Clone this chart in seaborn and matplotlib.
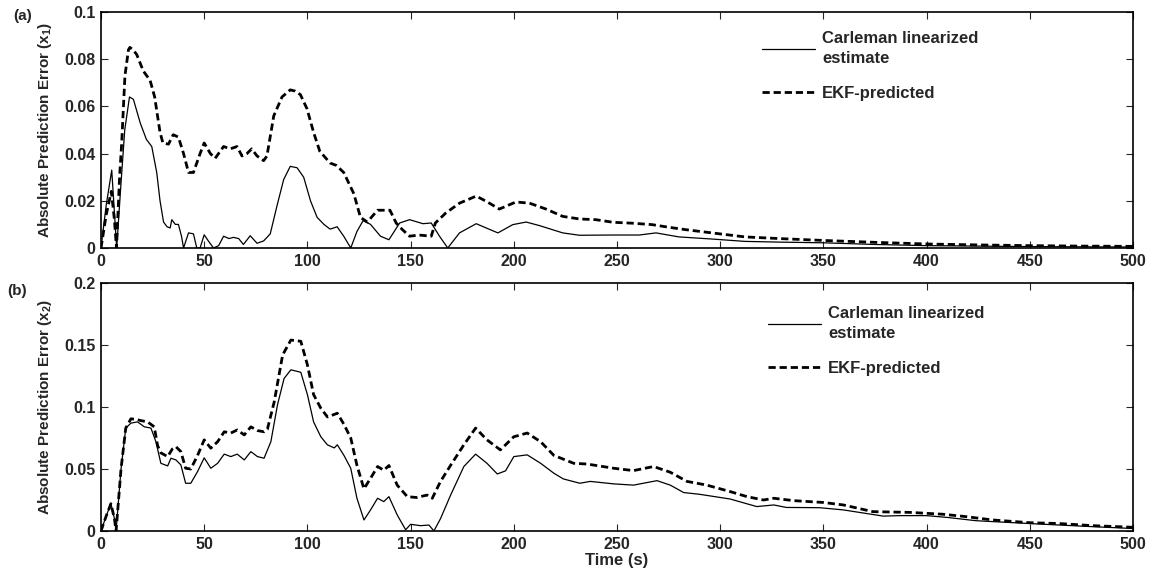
import matplotlib
matplotlib.use("Agg")
import matplotlib.pyplot as plt
import seaborn as sns
import pandas as pd

# ---------------- data (time s, absolute prediction error) ----------------
a_carleman = [(0, 0), (2.5, 0.018), (5.2, 0.033), (6.5, 0.015), (7.6, 0.0), (9.5, 0.025),
              (11.5, 0.05), (13.8, 0.064), (15.7, 0.063), (19, 0.053), (22, 0.046), (24.6, 0.043),
              (27, 0.032), (28.6, 0.020), (30.3, 0.011), (32, 0.009), (33.5, 0.0085), (34.3, 0.012),
              (36, 0.010), (37.5, 0.010), (39, 0.005), (40, 0.0), (42.4, 0.0064), (44.8, 0.006),
              (46.4, 0.0), (48, 0.0), (50, 0.0056), (52, 0.003), (54.5, 0.0), (57, 0.001),
              (59.4, 0.005), (62, 0.004), (64.2, 0.0045), (66.7, 0.004), (69, 0.0015), (72.3, 0.0052),
              (75.6, 0.002), (78.8, 0.003), (82, 0.006), (85.3, 0.018), (88.5, 0.029), (91.7, 0.0346),
              (95, 0.034), (98.2, 0.030), (101.5, 0.020), (104.7, 0.013), (108, 0.010), (111, 0.008),
              (114.4, 0.009), (117.6, 0.005), (121, 0.0), (124, 0.007), (127, 0.0116), (130.6, 0.010),
              (135.4, 0.005), (139.5, 0.0035), (144.7, 0.0106), (149.5, 0.012), (156, 0.0103),
              (160, 0.0106), (164, 0.005), (168, 0.0), (173.7, 0.0064), (181.8, 0.0103),
              (186.6, 0.0085), (192.3, 0.0064), (199.5, 0.0099), (206, 0.011), (212.4, 0.0095),
              (223.7, 0.0064), (231.8, 0.0054), (248, 0.0055), (260.8, 0.0055), (268.9, 0.0064),
              (280, 0.0047), (296, 0.0038), (312, 0.0028), (328.5, 0.0025), (350, 0.0022),
              (375, 0.0015), (400, 0.001), (425, 0.0008), (450, 0.0006), (475, 0.0005), (500, 0.0004)]

a_ekf = [(0, 0), (2.5, 0.014), (5, 0.024), (6.5, 0.012), (7.5, 0.0), (9, 0.03), (10, 0.044),
         (11.6, 0.073), (13.3, 0.084), (14, 0.085), (15.5, 0.084), (17.3, 0.082), (20.5, 0.075),
         (23.8, 0.071), (26, 0.064), (28.6, 0.049), (30, 0.0445), (32.7, 0.044), (35, 0.048),
         (37.5, 0.047), (40, 0.040), (42.4, 0.032), (44.8, 0.032), (48, 0.040), (50, 0.0445),
         (53, 0.040), (55.3, 0.038), (59.4, 0.043), (62.6, 0.042), (65.9, 0.043), (68.3, 0.039),
         (70.7, 0.040), (73, 0.042), (75.6, 0.039), (78.8, 0.037), (80.4, 0.039), (83.7, 0.056),
         (87.7, 0.064), (91.7, 0.067), (94, 0.0665), (96.6, 0.065), (99.8, 0.059), (103, 0.049),
         (106, 0.041), (111, 0.036), (114, 0.035), (117.6, 0.032), (122.5, 0.023), (125.7, 0.013),
         (129, 0.011), (134, 0.016), (140, 0.016), (143, 0.0106), (146, 0.0078), (149.5, 0.005),
         (154, 0.0055), (160, 0.005), (162, 0.0106), (167, 0.0148), (173.7, 0.019), (181.8, 0.022),
         (186.6, 0.0198), (193, 0.0165), (201, 0.0195), (207.6, 0.019), (215.6, 0.0165),
         (223.7, 0.0134), (231.8, 0.0123), (239.8, 0.012), (248, 0.0109), (257.6, 0.0105),
         (267, 0.0099), (275, 0.0088), (283, 0.0078), (296, 0.0064), (312, 0.0047), (328.5, 0.004),
         (350, 0.0032), (375, 0.0024), (400, 0.0017), (425, 0.0013), (450, 0.001), (475, 0.0008),
         (500, 0.0007)]

b_carleman = [(0, 0), (2.5, 0.012), (4.8, 0.022), (6.5, 0.01), (7.3, 0), (9.7, 0.05), (12, 0.083),
              (14.5, 0.087), (17.7, 0.088), (21, 0.084), (24.2, 0.083), (26.6, 0.072), (29, 0.0546),
              (32.3, 0.0525), (33.9, 0.0587), (36.3, 0.0573), (38.7, 0.0533), (41, 0.0385),
              (43.5, 0.0385), (46.8, 0.048), (50, 0.059), (53.2, 0.0506), (56.5, 0.0546),
              (59.7, 0.062), (62.9, 0.060), (66, 0.062), (69.4, 0.0573), (72.6, 0.064), (75.8, 0.060),
              (79, 0.0587), (82.3, 0.072), (85.5, 0.1017), (88.7, 0.123), (92, 0.130), (96.8, 0.128),
              (100, 0.110), (103, 0.088), (106.5, 0.076), (109.7, 0.0695), (113, 0.067),
              (114.5, 0.0695), (117.7, 0.061), (121, 0.0506), (124, 0.0264), (127.4, 0.0089),
              (130.6, 0.017), (134, 0.0264), (137, 0.0237), (139.5, 0.0277), (143.5, 0.013),
              (147.6, 0.001), (150, 0.0054), (154.8, 0.0043), (158.9, 0.0048), (161.3, 0),
              (164.5, 0.010), (169.4, 0.029), (175.8, 0.052), (181.5, 0.062), (187, 0.0546),
              (192, 0.046), (196, 0.0485), (200, 0.060), (206.5, 0.0614), (213, 0.0546),
              (219.4, 0.0466), (224, 0.042), (232, 0.0385), (237, 0.040), (248.4, 0.038),
              (258, 0.037), (269.4, 0.0406), (275.8, 0.037), (282.3, 0.031), (290, 0.0296),
              (304.8, 0.0258), (317.7, 0.0197), (326, 0.021), (332, 0.019), (348, 0.0188),
              (359.7, 0.017), (379, 0.012), (387, 0.0124), (400, 0.0124), (409.7, 0.011),
              (424, 0.0083), (442, 0.0067), (450, 0.006), (464.5, 0.0048), (480.6, 0.0035),
              (500, 0.002)]

b_ekf = [(0, 0), (2.5, 0.012), (4.8, 0.022), (6.5, 0.01), (7.3, 0), (9.7, 0.05), (12, 0.083),
         (14.5, 0.0905), (17, 0.09), (19.4, 0.089), (22.6, 0.088), (25.8, 0.084), (27.4, 0.069),
         (29, 0.063), (32.3, 0.060), (34.5, 0.066), (36.3, 0.068), (38.7, 0.064), (41, 0.0506),
         (43.5, 0.050), (46.8, 0.061), (50, 0.0735), (53.2, 0.0668), (56.5, 0.072), (59.7, 0.080),
         (62.9, 0.079), (66, 0.0815), (69.4, 0.0775), (72.6, 0.084), (75.8, 0.081), (79, 0.080),
         (80.6, 0.082), (83.9, 0.104), (88, 0.142), (92, 0.154), (96.8, 0.153), (100, 0.134),
         (103, 0.110), (106.5, 0.099), (109.7, 0.092), (113, 0.094), (114.5, 0.095), (117.7, 0.086),
         (121, 0.075), (124, 0.053), (127.4, 0.034), (130.6, 0.0425), (134, 0.052), (137, 0.049),
         (139.5, 0.0528), (143.5, 0.037), (148.4, 0.0277), (153, 0.027), (158, 0.029),
         (160.5, 0.0264), (164.5, 0.040), (169.4, 0.053), (175.8, 0.0695), (181.5, 0.083),
         (187, 0.0735), (193.5, 0.0654), (200, 0.076), (206.5, 0.079), (213, 0.072), (219.4, 0.061),
         (229, 0.0546), (235.5, 0.054), (248.4, 0.0506), (258, 0.0487), (267.7, 0.052),
         (275.8, 0.0474), (283.9, 0.040), (293.5, 0.037), (304.8, 0.0318), (313, 0.0277),
         (321, 0.025), (326, 0.0264), (335.5, 0.0245), (350, 0.023), (359.7, 0.021), (374, 0.0156),
         (392, 0.015), (408, 0.0135), (419, 0.0116), (432, 0.0089), (450, 0.0067), (464.5, 0.006),
         (480.6, 0.0043), (500, 0.003)]

x_ticks = [0, 50, 100, 150, 200, 250, 300, 350, 400, 450, 500]
a_yticks = [0, 0.02, 0.04, 0.06, 0.08, 0.1]
b_yticks = [0, 0.05, 0.1, 0.15, 0.2]
label_carleman = "Carleman linearized\nestimate"
label_ekf = "EKF-predicted"

# ---------------- style ----------------
sns.set_style("ticks")
plt.rcParams["font.family"] = ["Liberation Sans", "DejaVu Sans"]
plt.rcParams["font.weight"] = "bold"
plt.rcParams["mathtext.fontset"] = "custom"
plt.rcParams["mathtext.rm"] = "Liberation Sans:bold"
plt.rcParams["mathtext.bf"] = "Liberation Sans:bold"
plt.rcParams["mathtext.default"] = "bf"

fig = plt.figure(figsize=(11.55, 5.72), dpi=100)
ax_a = fig.add_axes([101 / 1155, 1 - 248 / 572, (1133 - 101) / 1155, (248 - 12) / 572])
ax_b = fig.add_axes([101 / 1155, 1 - 531 / 572, (1133 - 101) / 1155, (531 - 283) / 572])


def to_df(pairs):
    return pd.DataFrame(pairs, columns=["t", "v"])


panels = [
    (ax_a, a_carleman, a_ekf, a_yticks, 0.1, "Absolute Prediction Error (x$_1$)", "(a)",
     (13 / 1155, 1 - 16 / 572), (762 / 1155, 1 - 31 / 572)),
    (ax_b, b_carleman, b_ekf, b_yticks, 0.2, "Absolute Prediction Error (x$_2$)", "(b)",
     (7 / 1155, 1 - 291 / 572), (768 / 1155, 1 - 306 / 572)),
]

for ax, carl, ekf, yt, ymax, ylab, tag, tag_xy, leg_xy in panels:
    sns.lineplot(data=to_df(carl), x="t", y="v", ax=ax, color="black", linewidth=0.9,
                 estimator=None, sort=False, label=label_carleman)
    sns.lineplot(data=to_df(ekf), x="t", y="v", ax=ax, color="black", linewidth=2.0,
                 estimator=None, sort=False, label=label_ekf, dashes=False)
    ax.lines[-1].set_dashes((2.6, 1.4))
    ax.set_xlim(0, 500)
    ax.set_ylim(0, ymax)
    ax.set_xticks(x_ticks)
    ax.set_xticklabels([str(v) for v in x_ticks])
    ax.set_yticks(yt)
    ax.set_yticklabels(["%g" % v for v in yt])
    ax.tick_params(direction="in", top=True, right=True, length=5, width=0.8,
                   labelsize=11.5, pad=4)
    for lab in ax.get_xticklabels() + ax.get_yticklabels():
        lab.set_fontweight("bold")
    for s in ax.spines.values():
        s.set_linewidth(1.2)
        s.set_color("black")
    ax.set_ylabel(ylab, fontsize=11, fontweight="bold", labelpad=7)
    ax.set_xlabel("")
    fig.text(tag_xy[0], tag_xy[1], tag, fontsize=11, fontweight="bold", va="center", ha="left")
    leg = ax.legend(loc="upper left", bbox_to_anchor=leg_xy, bbox_transform=fig.transFigure,
                    frameon=False, fontsize=12, handlelength=3.2, handletextpad=0.4,
                    labelspacing=1.15, borderpad=0, borderaxespad=0)
    for txt in leg.get_texts():
        txt.set_fontweight("bold")
        txt.set_linespacing(1.45)

ax_a.tick_params(labelbottom=True)
ax_b.set_xlabel("Time (s)", fontsize=12, fontweight="bold", labelpad=1)

fig.savefig("out.png", dpi=100)
